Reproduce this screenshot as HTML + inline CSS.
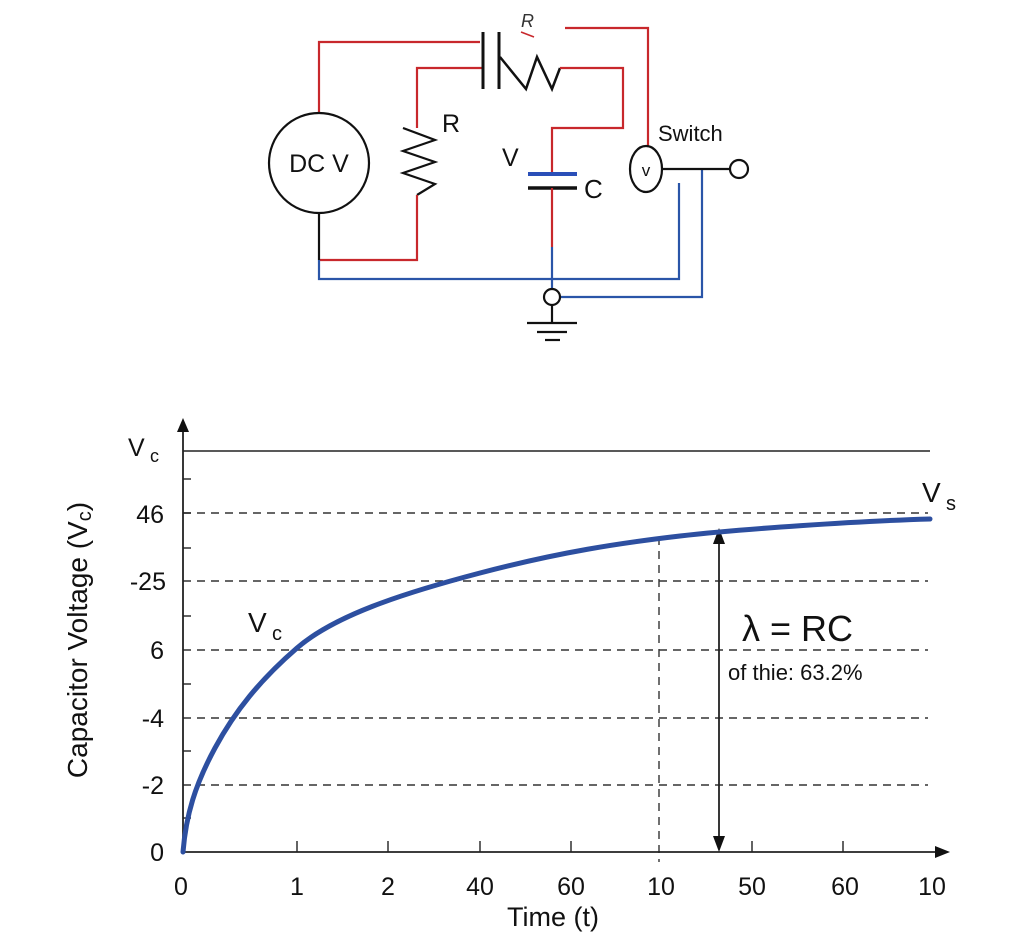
<!DOCTYPE html>
<html><head><meta charset="utf-8"><style>
html,body{margin:0;padding:0;background:#fff;}
svg{display:block;font-family:"Liberation Sans","DejaVu Sans",sans-serif;}
</style></head><body>
<svg width="1024" height="952" viewBox="0 0 1024 952" xmlns="http://www.w3.org/2000/svg">
<rect width="1024" height="952" fill="#fff"/>
<!-- Circuit -->
<g fill="none" stroke-width="2.2">
  <polyline points="319,112 319,42 480,42" stroke="#c8282c"/>
  <polyline points="483,68 417,68 417,128" stroke="#c8282c"/>
  <polyline points="403,128 435,140 403,151 435,162 403,173 435,184 417,195" stroke="#111"/>
  <polyline points="417,195 417,260 319,260" stroke="#c8282c"/>
  <line x1="319" y1="213" x2="319" y2="260" stroke="#111"/>
  <polyline points="319,260 319,279 679,279 679,183" stroke="#2a55a8"/>
  <line x1="483" y1="32" x2="483" y2="89" stroke="#111" stroke-width="3"/>
  <line x1="499" y1="32" x2="499" y2="89" stroke="#111" stroke-width="3"/>
  <polyline points="500,57 526,89 537,57 552,89 560,68" stroke="#111" stroke-width="2.5"/>
  <polyline points="560,68 623,68 623,128 552,128 552,173" stroke="#c8282c"/>
  <line x1="528" y1="174" x2="577" y2="174" stroke="#2a4fb8" stroke-width="4"/>
  <line x1="528" y1="188" x2="577" y2="188" stroke="#111" stroke-width="3.5"/>
  <line x1="552" y1="188" x2="552" y2="247" stroke="#c8282c"/>
  <line x1="552" y1="247" x2="552" y2="289" stroke="#2a55a8"/>
  <polyline points="560,297 702,297 702,169" stroke="#2a55a8"/>
  <circle cx="552" cy="297" r="8" stroke="#111" fill="#fff"/>
  <line x1="552" y1="305" x2="552" y2="323" stroke="#111"/>
  <line x1="527" y1="323" x2="577" y2="323" stroke="#111"/>
  <line x1="537" y1="332" x2="567" y2="332" stroke="#111"/>
  <line x1="545" y1="340" x2="560" y2="340" stroke="#111"/>
  <polyline points="565,28 648,28 648,146" stroke="#c8282c"/>
  <ellipse cx="646" cy="169" rx="16" ry="23" stroke="#111"/>
  <line x1="662" y1="169" x2="730" y2="169" stroke="#111"/>
  <circle cx="739" cy="169" r="9" stroke="#111" fill="#fff"/>
  <circle cx="319" cy="163" r="50" stroke="#111"/>
  <line x1="521" y1="32" x2="534" y2="37" stroke="#c8282c" stroke-width="1.5"/>
</g>
<g fill="#111">
  <text x="319" y="172" font-size="25" text-anchor="middle">DC V</text>
  <text x="442" y="132" font-size="25">R</text>
  <text x="521" y="27" font-size="18" font-style="italic" fill="#333">R</text>
  <text x="658" y="141" font-size="22">Switch</text>
  <text x="646" y="176" font-size="17" text-anchor="middle">v</text>
  <text x="502" y="166" font-size="25">V</text>
  <text x="584" y="198" font-size="26">C</text>
</g>
<!-- Chart -->
<g stroke="#222" fill="none" stroke-width="1.4">
  <line x1="183" y1="451" x2="930" y2="451"/>
  <g stroke-dasharray="8,6" stroke="#333">
    <line x1="183" y1="513" x2="928" y2="513"/>
    <line x1="183" y1="581" x2="928" y2="581"/>
    <line x1="183" y1="650" x2="928" y2="650"/>
    <line x1="183" y1="718" x2="928" y2="718"/>
    <line x1="183" y1="785" x2="928" y2="785"/>
    <line x1="659" y1="537" x2="659" y2="862"/>
  </g>
  <line x1="183" y1="852" x2="183" y2="430" stroke-width="1.8"/>
  <line x1="183" y1="852" x2="935" y2="852" stroke-width="1.8"/>
  <g>
    <line x1="183" y1="479" x2="191" y2="479"/>
    <line x1="183" y1="548" x2="191" y2="548"/>
    <line x1="183" y1="616" x2="191" y2="616"/>
    <line x1="183" y1="684" x2="191" y2="684"/>
    <line x1="183" y1="751" x2="191" y2="751"/>
    <line x1="183" y1="818" x2="191" y2="818"/>
    <line x1="183" y1="513" x2="191" y2="513"/>
    <line x1="297" y1="852" x2="297" y2="841"/>
    <line x1="388" y1="852" x2="388" y2="841"/>
    <line x1="480" y1="852" x2="480" y2="841"/>
    <line x1="571" y1="852" x2="571" y2="841"/>
    <line x1="752" y1="852" x2="752" y2="841"/>
    <line x1="843" y1="852" x2="843" y2="841"/>
  </g>
  <line x1="719" y1="542" x2="719" y2="838" stroke-width="1.8"/>
</g>
<polygon points="183,418 177,432 189,432" fill="#111"/>
<polygon points="950,852 935,846 935,858" fill="#111"/>
<polygon points="719,528 713,544 725,544" fill="#111"/>
<polygon points="719,852 713,836 725,836" fill="#111"/>
<path d="M183,852 C186,815 195,785 215,748 S260,680 297,648 S400,594 480,573 S620,543 680,536 S860,521 930,519" fill="none" stroke="#2d4fa0" stroke-width="5" stroke-linecap="round"/>
<g fill="#111" font-size="25">
  <text x="128" y="456">V</text><text x="150" y="462" font-size="18">c</text>
  <text x="164" y="523" text-anchor="end">46</text>
  <text x="166" y="590" text-anchor="end">-25</text>
  <text x="164" y="659" text-anchor="end">6</text>
  <text x="164" y="727" text-anchor="end">-4</text>
  <text x="164" y="794" text-anchor="end">-2</text>
  <text x="164" y="861" text-anchor="end">0</text>
  <g text-anchor="middle">
    <text x="181" y="895">0</text>
    <text x="297" y="895">1</text>
    <text x="388" y="895">2</text>
    <text x="480" y="895">40</text>
    <text x="571" y="895">60</text>
    <text x="661" y="895">10</text>
    <text x="752" y="895">50</text>
    <text x="845" y="895">60</text>
    <text x="932" y="895">10</text>
  </g>
  <text x="553" y="926" text-anchor="middle" font-size="27">Time (t)</text>
  <text x="248" y="632" font-size="28">V</text><text x="272" y="640" font-size="20">c</text>
  <text x="922" y="502" font-size="28">V</text><text x="946" y="510" font-size="20">s</text>
  <text x="742" y="641" font-size="36">λ = RC</text>
  <text x="728" y="680" font-size="22">of thie: 63.2%</text>
  <text transform="translate(87,640) rotate(-90)" text-anchor="middle" font-size="28">Capacitor Voltage (V<tspan font-size="20" dy="4">c</tspan><tspan dy="-4">)</tspan></text>
</g>
</svg>
</body></html>
